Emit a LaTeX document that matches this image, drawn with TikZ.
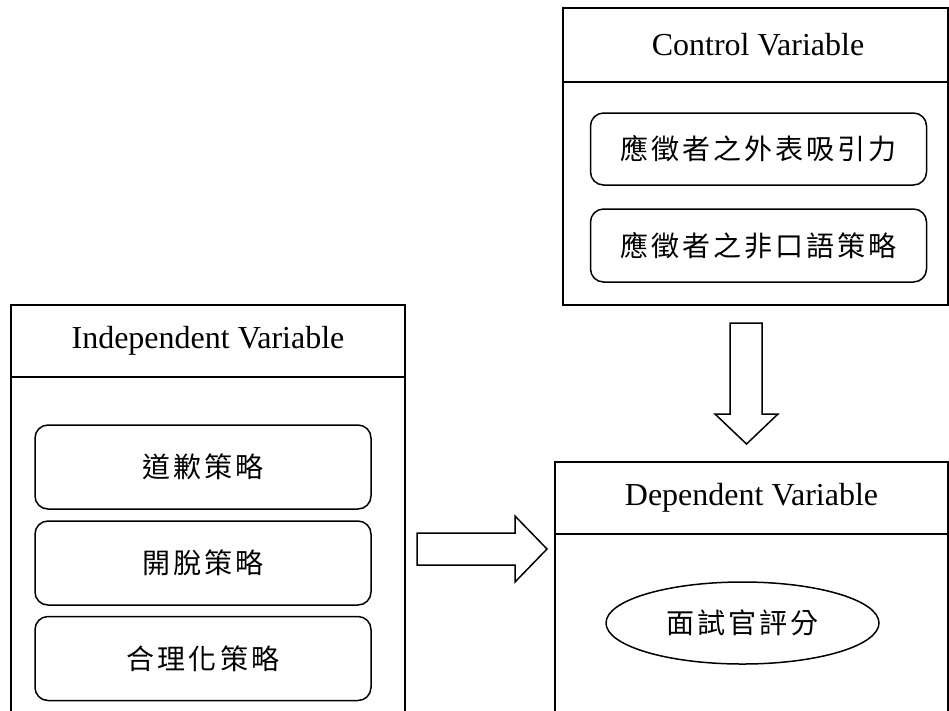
\documentclass[tikz,border=0pt]{standalone}
\usepackage{fontspec}
\setmainfont{Liberation Serif}
\newfontfamily\cjk[LetterSpace=11]{Noto Sans CJK TC}
\usetikzlibrary{shapes.geometric}
\begin{document}
\begin{tikzpicture}[x=1pt,y=-1pt,line width=1.5pt,
  head/.style={font=\fontsize{32}{36}\selectfont, inner sep=0pt},
  item/.style={draw, rounded corners=13pt, minimum width=336pt, font=\cjk\fontsize{28}{32}\selectfont, inner sep=0pt},
  oval/.style={draw, ellipse, minimum width=273pt, minimum height=82pt, font=\cjk\fontsize{28}{32}\selectfont, inner sep=0pt},
  blockarrow/.style={draw, fill=white, line join=miter}]
\clip (0,0) rectangle (949,710);
\fill[white] (0,0) rectangle (949,710);
% Control Variable frame
\draw (563,8) rectangle (948,305);
\draw (563,82) -- (948,82);
\node[head] (ctitle) at (758,45) {Control Variable};
\node[item, minimum height=72pt] (c1) at (758.5,149) {應徵者之外表吸引力};
\node[item, minimum height=73pt] (c2) at (758.5,245.5) {應徵者之非口語策略};
% Independent Variable frame
\draw (11,305) rectangle (405,730);
\draw (11,377) -- (405,377);
\node[head] (ititle) at (208,341) {Independent Variable};
\node[item, minimum height=84pt] (i1) at (203,467) {道歉策略};
\node[item, minimum height=84pt] (i2) at (203,563) {開脫策略};
\node[item, minimum height=84pt] (i3) at (203,658.5) {合理化策略};
% Dependent Variable frame
\draw (555,462) rectangle (948,730);
\draw (555,534) -- (948,534);
\node[head] (dtitle) at (751.5,498) {Dependent Variable};
\node[oval] (d1) at (742.5,623) {面試官評分};
% block arrows
\draw[blockarrow] (730,323) -- (762,323) -- (762,414) -- (778,414) -- (746.5,444) -- (715,414) -- (730,414) -- cycle;
\draw[blockarrow] (417,533) -- (515,533) -- (515,516) -- (547,549) -- (515,582) -- (515,565) -- (417,565) -- cycle;
\end{tikzpicture}
\end{document}
